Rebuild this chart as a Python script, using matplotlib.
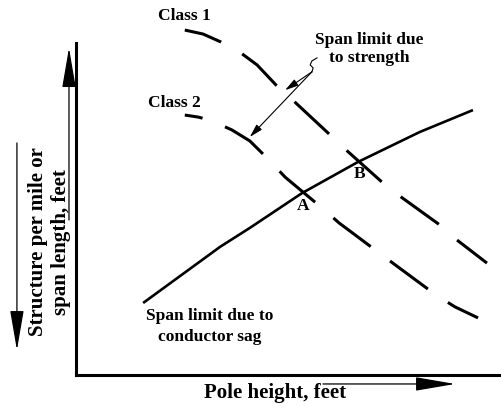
import matplotlib
matplotlib.use('Agg')
import matplotlib.pyplot as plt

plt.rcParams['font.family'] = ['Liberation Serif', 'DejaVu Serif']
plt.rcParams['font.weight'] = 'bold'

# pole height (x) vs span length (y), arbitrary 0-100 units
sag_x = [15.8, 33.9, 40.9, 53.2, 66.4, 80.9, 93.4]
sag_y = [21.7, 38.6, 44.3, 54.8, 64.2, 73.2, 79.8]

class1_x = [25.6, 29.9, 34.1, 38.8, 42.6, 47.1, 51.5, 59.3, 63.8, 72.0, 76.5, 85.6, 89.6, 96.7]
class1_y = [103.9, 102.7, 100.3, 97.0, 93.4, 87.3, 82.2, 72.9, 67.5, 58.1, 53.6, 45.2, 40.7, 33.7]

class2_x = [25.6, 28.7, 31.5, 36.7, 40.9, 45.4, 49.2, 57.9, 61.9, 71.1, 75.5, 84.7, 89.2, 94.6]
class2_y = [78.3, 77.7, 76.8, 73.8, 70.5, 64.8, 59.6, 50.3, 45.8, 37.0, 32.8, 24.1, 20.5, 17.2]

# crossing points A and B
pt_labels = ['A', 'B']
pt_x = [53.4, 66.6]
pt_y = [50.9, 60.5]

fig = plt.figure(figsize=(5.01, 4.08), dpi=100)
ax = fig.add_axes([76/501, 33/408, 425/501, 332/408])
ax.set_xlim(0, 100)
ax.set_ylim(0, 100)
ax.set_xticks([])
ax.set_yticks([])
for s in ['top', 'right']:
    ax.spines[s].set_visible(False)
for s in ['left', 'bottom']:
    ax.spines[s].set_linewidth(2.2)

lw = 2.2
ax.plot(sag_x, sag_y, color='black', lw=1.9, clip_on=False, solid_capstyle='butt')
ax.plot(class1_x, class1_y, color='black', lw=lw, clip_on=False,
        linestyle=(2.8, (15.4, 7.9)), dash_capstyle='butt')
ax.plot(class2_x, class2_y, color='black', lw=lw, clip_on=False,
        linestyle=(9.5, (15.4, 7.9)), dash_capstyle='butt')

fs = 12.5
ax.text(25.6, 108.1, 'Class 1', ha='center', va='center', fontsize=fs)
ax.text(23.1, 81.9, 'Class 2', ha='center', va='center', fontsize=fs)
for lab, x, y in zip(pt_labels, pt_x, pt_y):
    ax.text(x, y, lab, ha='center', va='center', fontsize=fs)

ax.text(68.9, 98.2, 'Span limit due\nto strength', ha='center', va='center',
        fontsize=fs, linespacing=1.1)
ax.text(31.5, 14.5, 'Span limit due to\nconductor sag', ha='center', va='center',
        fontsize=fs, linespacing=1.4)

# leader from the strength note to both curves
ax.plot([56.7, 55.5, 55.1, 55.8, 55.5], [95.5, 94.6, 93.4, 92.5, 91.3],
        color='black', lw=0.8, clip_on=False)
thin = dict(arrowstyle='-|>,head_length=8,head_width=2.2', mutation_scale=1,
            color='black', lw=0.8, shrinkA=0, shrinkB=0)
ax.annotate('', xy=(49.2, 85.8), xytext=(55.5, 91.3), arrowprops=thin,
            annotation_clip=False)
ax.annotate('', xy=(40.9, 71.7), xytext=(55.5, 91.3), arrowprops=thin,
            annotation_clip=False)

# axis direction arrows
big = dict(arrowstyle='-|>,head_length=25,head_width=4.3', mutation_scale=1,
           color='black', lw=0.9, shrinkA=0, shrinkB=0)
ax.annotate('', xy=(-1.65, 98.5), xytext=(-1.65, 46.7), arrowprops=big,
            annotation_clip=False)
ax.annotate('', xy=(-13.9, 7.5), xytext=(-13.9, 69.9), arrowprops=big,
            annotation_clip=False)
ax.annotate('', xy=(89.2, -2.7), xytext=(58.1, -2.7), arrowprops=big,
            annotation_clip=False)

ax.text(46.8, -5.4, 'Pole height, feet', ha='center', va='center', fontsize=15,
        clip_on=False)
ax.text(-6.2, 40.1, 'Structure per mile or\nspan length, feet', ha='center',
        va='center', rotation=90, fontsize=15, linespacing=1.2, clip_on=False)

fig.savefig('out.png', dpi=100)
